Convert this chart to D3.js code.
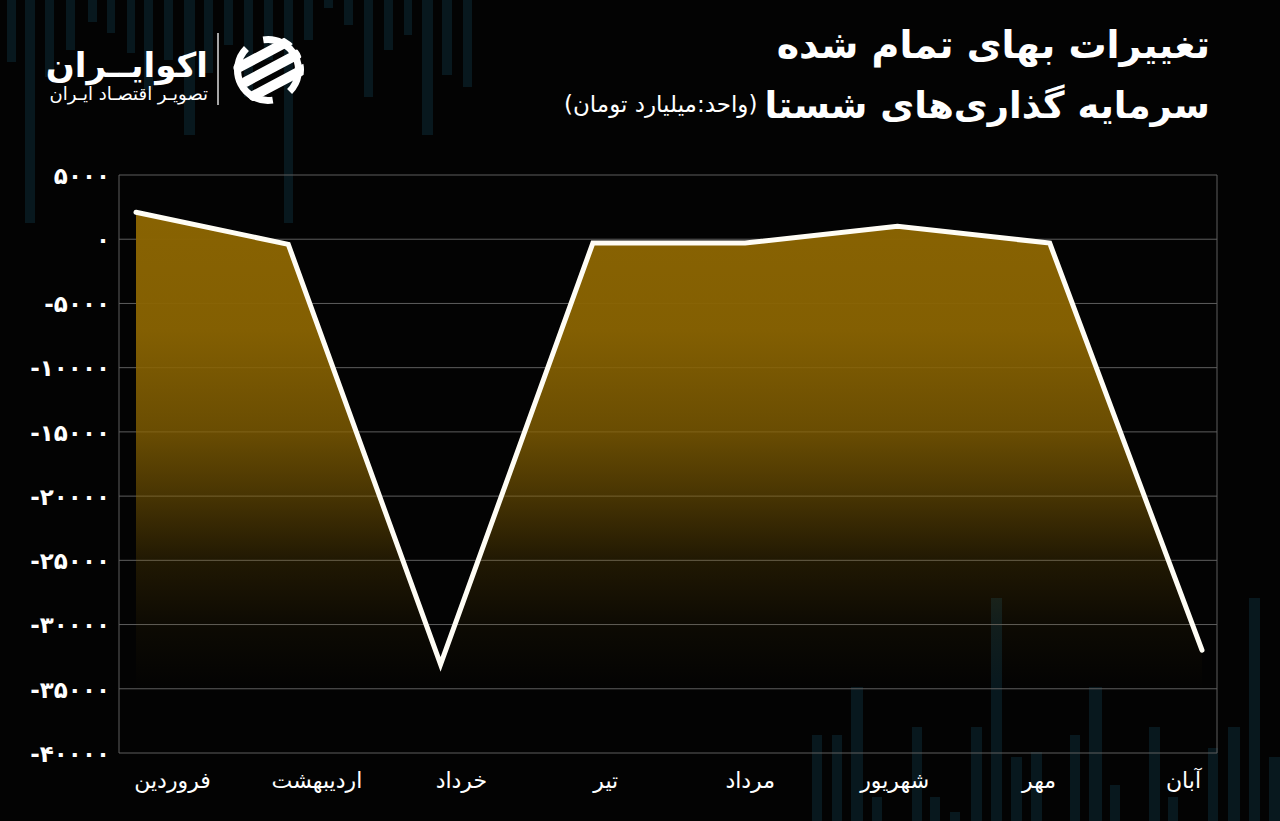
<!DOCTYPE html>
<html>
<head>
<meta charset="utf-8">
<script src="https://cdn.jsdelivr.net/npm/d3@7"></script>
<style>
  html, body { margin: 0; padding: 0; background: #030303; }
  svg { display: block; }
  text { font-family: "DejaVu Sans", "Noto Sans", sans-serif; }
</style>
</head>
<body>
<svg id="chart" width="1280" height="821"></svg>
<script>
// ---------- data ----------
const months = ["فروردین", "اردیبهشت", "خرداد", "تیر", "مرداد", "شهریور", "مهر", "آبان"];
const values = [2100, -400, -33100, -300, -300, 1000, -300, -32000];
const yTicks = [5000, 0, -5000, -10000, -15000, -20000, -25000, -30000, -35000, -40000];
const titleLine1 = "تغییرات بهای تمام شده";
const titleLine2 = "سرمایه گذاری‌های شستا";
const unitText = "(واحد:میلیارد تومان)";
const brandName = "اکوایــران";
const brandTag = "تصویـر اقتصـاد ایـران";

// decorative background bars [x, width, y0, y1]
const decoTop = [[7,9,0,62],[25,10,0,223],[45,9,0,77],[66,9,0,50],[88,9,0,22],[107,8,0,33],[127,8,0,53],[144,9,0,90],[164,9,0,60],[184,11,0,135],[204,9,0,73],[224,9,0,45],[244,9,0,97],[264,9,0,60],[284,9,0,223],[304,9,0,40],[324,9,0,8],[344,9,0,25],[364,9,0,97],[384,9,0,50],[404,8,0,35],[422,11,0,135],[442,10,0,75],[463,9,0,87]];
const decoBottom = [[812,10,735,821],[832,10,735,821],[851,12,687,821],[872,10,797,821],[912,10,727,821],[930,10,797,821],[950,10,812,821],[971,11,727,821],[991,11,598,821],[1011,11,757,821],[1031,11,752,821],[1070,10,735,821],[1089,13,687,821],[1110,10,785,821],[1149,11,727,821],[1168,10,797,821],[1208,10,748,821],[1228,12,727,821],[1249,11,598,821],[1269,11,757,821]];

const toFa = s => String(s).replace(/\d/g, d => "۰۱۲۳۴۵۶۷۸۹"[+d]);

const svg = d3.select("#chart");
const W = 1280, H = 821;
const plot = { left: 119, right: 1217, top: 175, bottom: 753 };

svg.append("rect").attr("width", W).attr("height", H).attr("fill", "#030303");

// decoration
const deco = svg.append("g");
deco.selectAll("rect.t").data(decoTop).join("rect").attr("class", "t")
  .attr("x", d => d[0]).attr("width", d => d[1]).attr("y", d => d[2]).attr("height", d => d[3] - d[2])
  .attr("fill", "#08181e");
deco.selectAll("rect.b").data(decoBottom).join("rect").attr("class", "b")
  .attr("x", d => d[0]).attr("width", d => d[1]).attr("y", d => d[2]).attr("height", d => d[3] - d[2])
  .attr("fill", "#08181e");

// scales
const x = d3.scalePoint().domain(months).range([136, 1202]);
const xLab = d3.scalePoint().domain(months).range([172, 1183]);
const y = d3.scaleLinear().domain([-40000, 5000]).range([plot.bottom, plot.top]);

// gradient
const defs = svg.append("defs");
const grad = defs.append("linearGradient").attr("id", "gold")
  .attr("gradientUnits", "userSpaceOnUse").attr("x1", 0).attr("x2", 0)
  .attr("y1", y(5000)).attr("y2", y(-35000));
[[0, 1], [0.3, 0.95], [0.5, 0.76], [0.62, 0.52], [0.75, 0.22], [0.88, 0.07], [1, 0]].forEach(([o, a]) =>
  grad.append("stop").attr("offset", o).attr("stop-color", "#8a6402").attr("stop-opacity", a));

// grid
const grid = svg.append("g");
grid.selectAll("line").data(yTicks).join("line")
  .attr("x1", plot.left).attr("x2", plot.right)
  .attr("y1", d => y(d)).attr("y2", d => y(d))
  .attr("stroke", "#5e5e5e").attr("stroke-width", 1);
grid.append("line").attr("x1", plot.left).attr("x2", plot.left).attr("y1", plot.top).attr("y2", plot.bottom)
  .attr("stroke", "#5e5e5e");
grid.append("line").attr("x1", plot.right).attr("x2", plot.right).attr("y1", plot.top).attr("y2", plot.bottom)
  .attr("stroke", "#5e5e5e");

const pts = months.map((m, i) => ({ m, v: values[i] }));

// area
svg.append("path").datum(pts)
  .attr("d", d3.area().x(d => x(d.m)).y0(y(-40000)).y1(d => y(d.v)))
  .attr("fill", "url(#gold)");

// line
svg.append("path").datum(pts)
  .attr("d", d3.line().x(d => x(d.m)).y(d => y(d.v)))
  .attr("fill", "none").attr("stroke", "#fffdf5").attr("stroke-width", 5)
  .attr("stroke-linejoin", "miter").attr("stroke-linecap", "round");

// y axis
const yAxis = d3.axisLeft(y).tickValues(yTicks).tickSize(0).tickPadding(0).tickFormat(d => toFa(d));
const ya = svg.append("g").attr("transform", `translate(110,0)`).call(yAxis);
ya.select(".domain").remove();
ya.selectAll("text").attr("fill", "#ffffff").attr("font-size", 23).attr("font-weight", "bold")
  .attr("direction", "ltr").attr("dy", "0.36em").attr("x", 0);

// x axis labels
const xAxis = d3.axisBottom(xLab).tickSize(0).tickPadding(0);
const xa = svg.append("g").attr("transform", `translate(0,788)`).call(xAxis);
xa.select(".domain").remove();
xa.selectAll("text").attr("fill", "#ffffff").attr("font-size", 22).attr("dy", 0).attr("y", 0);

// titles
svg.append("text").attr("x", 1210).attr("y", 58)
  .attr("direction", "rtl").attr("text-anchor", "start")
  .attr("fill", "#fff").attr("font-size", 38).attr("font-weight", "bold").text(titleLine1);
const t2 = svg.append("text").attr("x", 1210).attr("y", 118)
  .attr("direction", "rtl").attr("text-anchor", "start")
  .attr("fill", "#fff").attr("font-size", 37).attr("font-weight", "bold").text(titleLine2);
const t2w = t2.node().getComputedTextLength();
svg.append("text").attr("x", 1210 - t2w - 7).attr("y", 112)
  .attr("direction", "rtl").attr("text-anchor", "start")
  .attr("fill", "#fff").attr("font-size", 23).text(unitText);

// brand
svg.append("text").attr("x", 208).attr("y", 77)
  .attr("direction", "rtl").attr("text-anchor", "start")
  .attr("fill", "#fff").attr("font-size", 34).attr("font-weight", "bold").text(brandName);
svg.append("text").attr("x", 208).attr("y", 100)
  .attr("direction", "rtl").attr("text-anchor", "start")
  .attr("fill", "#fff").attr("font-size", 18).text(brandTag);
svg.append("line").attr("x1", 218).attr("x2", 218).attr("y1", 33).attr("y2", 105)
  .attr("stroke", "#ddd").attr("stroke-width", 1.5);

// logo icon
const ic = svg.append("g").attr("transform", "translate(268,70)");
defs.append("clipPath").attr("id", "icClip").append("circle").attr("r", 36);
const arc = d3.arc().innerRadius(27).outerRadius(34);
ic.append("path").attr("d", arc({ startAngle: Math.PI * 0.95, endAngle: Math.PI * 1.75 })).attr("fill", "#fff");
ic.append("path").attr("d", arc({ startAngle: -0.05 * Math.PI, endAngle: Math.PI * 0.75 })).attr("fill", "#fff");
const stripes = ic.append("g").attr("clip-path", "url(#icClip)").attr("transform", "rotate(-28)");
[-16, 0, 16].forEach(o => stripes.append("rect").attr("x", -30).attr("y", o - 5).attr("width", 68).attr("height", 10)
  .attr("rx", 5).attr("fill", "#fff"));
</script>
</body>
</html>
